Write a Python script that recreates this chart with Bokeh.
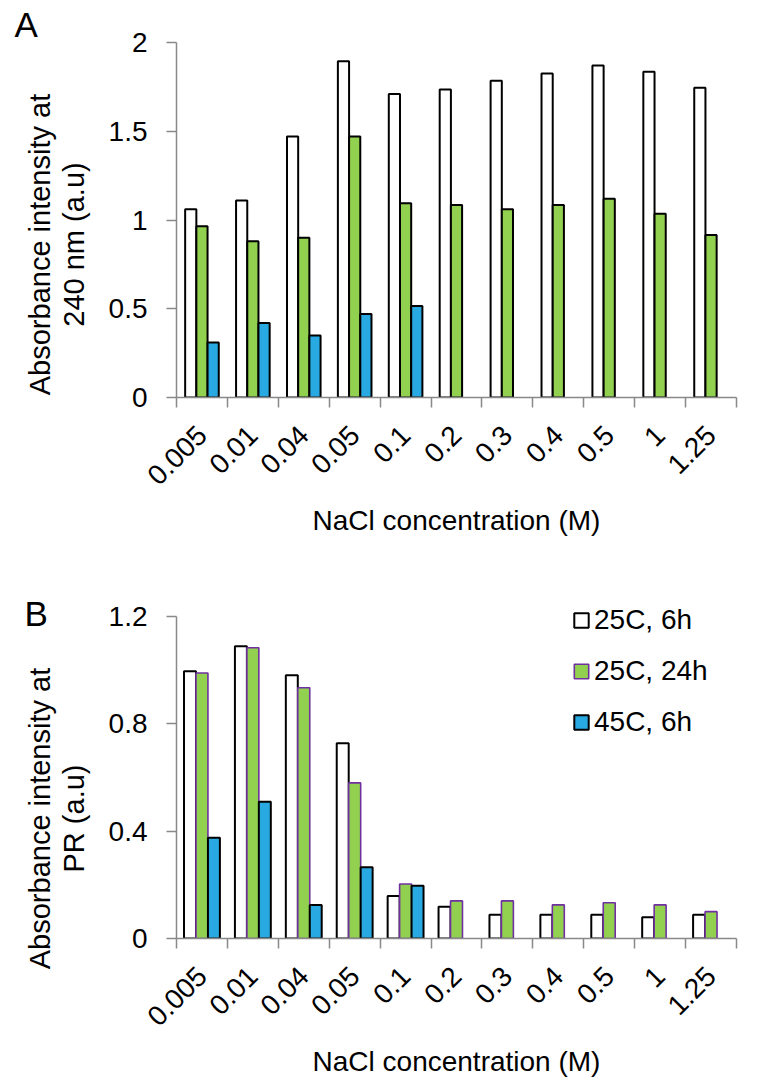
import math
from bokeh.plotting import figure
from bokeh.models import (Range1d, FixedTicker, CustomJSTickFormatter, Label,
                          Legend, LegendItem)
from bokeh.layouts import column, row
from bokeh.embed import file_html
from bokeh.resources import INLINE

# ---------------- data ----------------
concentrations = ["0.005", "0.01", "0.04", "0.05", "0.1", "0.2", "0.3",
                  "0.4", "0.5", "1", "1.25"]
series_names = ["25C, 6h", "25C, 24h", "45C, 6h"]

# Panel A: absorbance at 240 nm
a_25c_6h = [1.06, 1.11, 1.47, 1.895, 1.71, 1.735, 1.785, 1.825, 1.87, 1.835, 1.745]
a_25c_24h = [0.965, 0.88, 0.90, 1.47, 1.095, 1.085, 1.06, 1.085, 1.12, 1.035, 0.915]
a_45c_6h = [0.31, 0.42, 0.35, 0.47, 0.515]          # only first five concentrations

# Panel B: absorbance at PR
b_25c_6h = [0.995, 1.088, 0.98, 0.727, 0.158, 0.118, 0.088, 0.088, 0.088, 0.079, 0.088]
b_25c_24h = [0.988, 1.082, 0.933, 0.579, 0.203, 0.14, 0.14, 0.125, 0.133, 0.125, 0.10]
b_45c_6h = [0.375, 0.509, 0.125, 0.265, 0.196]      # only first five concentrations

a_yticks = [0, 0.5, 1, 1.5, 2]
a_ytick_labels = ["0", "0.5", "1", "1.5", "2"]
b_yticks = [0, 0.4, 0.8, 1.2]
b_ytick_labels = ["0", "0.4", "0.8", "1.2"]

a_ylabel = ["Absorbance intensity at", "240 nm (a.u)"]
b_ylabel = ["Absorbance intensity at", "PR (a.u)"]
xlabel = "NaCl concentration (M)"

# ---------------- style ----------------
FONT = "Liberation Sans"
GRAY = "#898989"
WHITE = "#FFFFFF"
GREEN = "#92D050"
BLUE = "#29A9E1"
PURPLE = "#7030A0"

SIDE_W = 100     # width of the side strip holding the y titles / panel letters
MAIN_W = 656
PANEL_H = 540
TOTAL_H = 2 * PANEL_H

# ---- side strip (one figure for both panels, no axes) ----
strip = figure(width=SIDE_W, height=TOTAL_H, output_backend="svg",
               toolbar_location=None, x_range=Range1d(0, SIDE_W),
               y_range=Range1d(0, TOTAL_H), x_axis_type=None, y_axis_type=None,
               min_border=0, outline_line_color=None)
strip.grid.visible = False


def strip_texts(letter, letter_xy, lines, line_x, line_y):
    strip.add_layout(Label(x=letter_xy[0], y=TOTAL_H - letter_xy[1], text=letter,
                           text_font=FONT, text_font_size="35px",
                           text_color="black", text_align="left",
                           text_baseline="alphabetic"))
    for j, txt in enumerate(lines):
        strip.add_layout(Label(x=line_x[j], y=TOTAL_H - line_y, text=txt,
                               angle=math.pi / 2, text_font=FONT,
                               text_font_size="29px", text_color="black",
                               text_align="center", text_baseline="middle"))


strip_texts("A", (14, 24), a_ylabel, [39.5, 73], 244)
strip_texts("B", (24, 613), b_ylabel, [39.5, 73], 818)


def make_panel(frame_left, frame_right, frame_top, frame_bottom, axis_top_px,
               ymax, yticks, ylabels, bar_w, series, green_line):
    n = len(concentrations)
    # frame may extend above the top tick; axis bounds keep the axis at ymax
    y_end = ymax * (frame_bottom - frame_top) / (frame_bottom - axis_top_px)
    p = figure(width=MAIN_W, height=PANEL_H, output_backend="svg",
               toolbar_location=None, x_range=Range1d(0, n),
               y_range=Range1d(0, y_end),
               min_border_left=frame_left - SIDE_W,
               min_border_right=SIDE_W + MAIN_W - frame_right,
               min_border_top=frame_top, min_border_bottom=PANEL_H - frame_bottom,
               outline_line_color=None)
    p.grid.visible = False

    xa = p.xaxis[0]
    xa.ticker = FixedTicker(ticks=[i + 0.5 for i in range(n)],
                            minor_ticks=list(range(n + 1)))
    xa.formatter = CustomJSTickFormatter(args=dict(labels=concentrations),
                                         code="return labels[Math.floor(tick)];")
    xa.major_tick_line_color = None
    xa.minor_tick_line_color = GRAY
    xa.minor_tick_line_width = 1.5
    xa.minor_tick_out = 10
    xa.minor_tick_in = 0
    xa.axis_line_color = GRAY
    xa.axis_line_width = 1.5
    xa.major_label_orientation = math.pi / 4
    xa.major_label_standoff = 23
    xa.major_label_text_font = FONT
    xa.major_label_text_font_size = "28px"
    xa.major_label_text_color = "black"
    xa.axis_label = xlabel
    xa.axis_label_text_font = FONT
    xa.axis_label_text_font_size = "28px"
    xa.axis_label_text_font_style = "normal"
    xa.axis_label_text_color = "black"
    xa.axis_label_standoff = 9

    ya = p.yaxis[0]
    ya.bounds = (0, ymax)
    ya.ticker = FixedTicker(ticks=yticks, minor_ticks=[])
    ya.formatter = CustomJSTickFormatter(
        args=dict(vals=yticks, labels=ylabels),
        code="const i = vals.indexOf(tick); return i >= 0 ? labels[i] : '';")
    ya.major_tick_line_color = GRAY
    ya.major_tick_line_width = 1.5
    ya.major_tick_out = 10
    ya.major_tick_in = 0
    ya.minor_tick_line_color = None
    ya.axis_line_color = GRAY
    ya.axis_line_width = 1.5
    ya.major_label_standoff = 19
    ya.major_label_text_font = FONT
    ya.major_label_text_font_size = "28px"
    ya.major_label_text_color = "black"

    fills = [WHITE, GREEN, BLUE]
    lines = ["black", green_line, "black"]
    lws = [2, 1.6 if green_line != "black" else 2, 2]
    renderers = []
    for k, vals in enumerate(series):
        xs = [i + 0.5 + (k - 1) * bar_w for i in range(len(vals))]
        r = p.vbar(x=xs, top=vals, bottom=0, width=bar_w, fill_color=fills[k],
                   line_color=lines[k], line_width=lws[k])
        renderers.append(r)
    return p, renderers


# ---- panel A ----
pA, _ = make_panel(173, 736, 42, 397, 42, 2, a_yticks, a_ytick_labels, 0.22,
                   [a_25c_6h, a_25c_24h, a_45c_6h], "black")

# ---- panel B (page y offset 540) ----
pB, rB = make_panel(176, 747, 590 - 540, 944 - 540, 616 - 540, 1.2, b_yticks,
                    b_ytick_labels, 0.235, [b_25c_6h, b_25c_24h, b_45c_6h], PURPLE)

legend = Legend(items=[LegendItem(label=series_names[k], renderers=[rB[k]])
                       for k in range(3)],
                location=(396, 200), padding=0, border_line_color=None,
                background_fill_alpha=0, label_text_font=FONT,
                label_text_font_size="28px", label_text_color="black",
                glyph_width=18, glyph_height=18, label_standoff=4,
                label_height=30, spacing=19)
pB.add_layout(legend)

layout = row(strip, column(pA, pB, spacing=0), spacing=0)
open("out.html", "w").write(file_html(layout, INLINE))
